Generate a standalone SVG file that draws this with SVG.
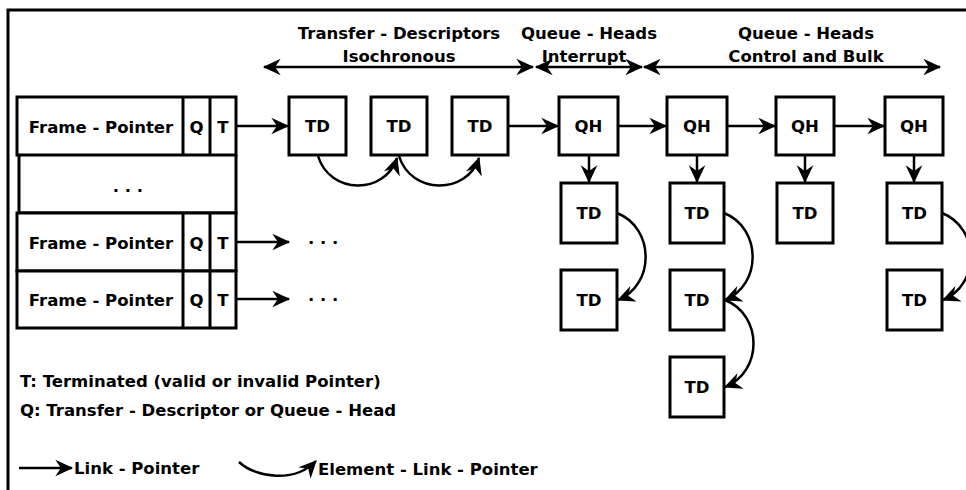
<svg xmlns="http://www.w3.org/2000/svg" width="966" height="490" viewBox="0 0 966 490">
  <style>
    .box { fill: #fff; stroke: #000; stroke-width: 3; }
    .ln { fill: none; stroke: #000; stroke-width: 3; }
    .cn { fill: none; stroke: #000; stroke-width: 2.5; }
    text { font-family: "DejaVu Sans", "Liberation Sans", sans-serif; font-weight: bold; font-size: 16.5px; fill: #000; }
    .c { text-anchor: middle; }
  </style>
  <defs>
    <marker id="ah" markerUnits="userSpaceOnUse" markerWidth="20" markerHeight="20" viewBox="-16 -8 18 16" refX="0" refY="0" orient="auto-start-reverse">
      <path d="M1,0 L-15,-7.5 L-10,0 L-15,7.5 Z" fill="#000"/>
    </marker>
  </defs>
  <rect width="966" height="490" fill="#fff"/>

  <!-- outer frame (top and left edges) -->
  <path class="ln" d="M8,490 V10 H966"/>

  <!-- range labels -->
  <g id="span-iso">
    <text class="c" x="399" y="39">Transfer - Descriptors</text>
    <text class="c" x="399" y="62">Isochronous</text>
  </g>
  <g id="span-int">
    <text class="c" x="589" y="39">Queue - Heads</text>
    <text class="c" x="584" y="62">Interrupt</text>
  </g>
  <g id="span-cb">
    <text class="c" x="806" y="39">Queue - Heads</text>
    <text class="c" x="806" y="62">Control and Bulk</text>
  </g>

  <!-- frame list -->
  <g id="frame-list">
    <rect class="box" x="17" y="97" width="219" height="58"/>
    <line class="ln" x1="183" y1="97" x2="183" y2="155"/>
    <line class="ln" x1="210" y1="97" x2="210" y2="155"/>
    <text class="c" x="101" y="133">Frame - Pointer</text>
    <text class="c" x="196.5" y="133">Q</text>
    <text class="c" x="223" y="133">T</text>

    <path class="ln" d="M19,155 V213 H236 V155"/>
    <text class="c" x="128" y="192">. . .</text>

    <rect class="box" x="17" y="213" width="219" height="58"/>
    <line class="ln" x1="183" y1="213" x2="183" y2="271"/>
    <line class="ln" x1="210" y1="213" x2="210" y2="271"/>
    <text class="c" x="101" y="249">Frame - Pointer</text>
    <text class="c" x="196.5" y="249">Q</text>
    <text class="c" x="223" y="249">T</text>

    <rect class="box" x="17" y="271" width="219" height="57"/>
    <line class="ln" x1="183" y1="271" x2="183" y2="328"/>
    <line class="ln" x1="210" y1="271" x2="210" y2="328"/>
    <text class="c" x="101" y="306">Frame - Pointer</text>
    <text class="c" x="196.5" y="306">Q</text>
    <text class="c" x="223" y="306">T</text>
  </g>

  <!-- isochronous transfer descriptors -->
  <g id="td1"><rect class="box" x="289" y="97" width="57" height="58"/><text class="c" x="317.5" y="132">TD</text></g>
  <g id="td2"><rect class="box" x="371" y="97" width="56" height="58"/><text class="c" x="399" y="132">TD</text></g>
  <g id="td3"><rect class="box" x="452" y="97" width="56" height="58"/><text class="c" x="480" y="132">TD</text></g>

  <!-- queue heads -->
  <g id="qh1"><rect class="box" x="559" y="97" width="59" height="58"/><text class="c" x="588.5" y="132">QH</text></g>
  <g id="qh2"><rect class="box" x="667" y="97" width="60" height="58"/><text class="c" x="697" y="132">QH</text></g>
  <g id="qh3"><rect class="box" x="776" y="97" width="58" height="58"/><text class="c" x="805" y="132">QH</text></g>
  <g id="qh4"><rect class="box" x="885" y="97" width="58" height="58"/><text class="c" x="914" y="132">QH</text></g>

  <!-- queued transfer descriptors -->
  <g id="qh1-td1"><rect class="box" x="561" y="183" width="56" height="60"/><text class="c" x="589" y="219">TD</text></g>
  <g id="qh1-td2"><rect class="box" x="561" y="270" width="56" height="60"/><text class="c" x="589" y="306">TD</text></g>
  <g id="qh2-td1"><rect class="box" x="670" y="183" width="54" height="60"/><text class="c" x="697" y="219">TD</text></g>
  <g id="qh2-td2"><rect class="box" x="670" y="270" width="54" height="60"/><text class="c" x="697" y="306">TD</text></g>
  <g id="qh2-td3"><rect class="box" x="670" y="357" width="54" height="60"/><text class="c" x="697" y="393">TD</text></g>
  <g id="qh3-td1"><rect class="box" x="777" y="183" width="56" height="60"/><text class="c" x="805" y="219">TD</text></g>
  <g id="qh4-td1"><rect class="box" x="887" y="183" width="55" height="60"/><text class="c" x="914.5" y="219">TD</text></g>
  <g id="qh4-td2"><rect class="box" x="887" y="270" width="55" height="60"/><text class="c" x="914.5" y="306">TD</text></g>

  <!-- connectors -->
  <g id="connectors">
    <!-- range spans -->
    <line class="cn" x1="264" y1="67" x2="533" y2="67" marker-start="url(#ah)" marker-end="url(#ah)"/>
    <line class="cn" x1="536" y1="67" x2="642" y2="67" marker-start="url(#ah)" marker-end="url(#ah)"/>
    <line class="cn" x1="644" y1="67" x2="940" y2="67" marker-start="url(#ah)" marker-end="url(#ah)"/>

    <!-- link pointers -->
    <line class="cn" x1="236" y1="126" x2="288" y2="126" marker-end="url(#ah)"/>
    <line class="cn" x1="508" y1="126" x2="558" y2="126" marker-end="url(#ah)"/>
    <line class="cn" x1="618" y1="126" x2="666" y2="126" marker-end="url(#ah)"/>
    <line class="cn" x1="727" y1="126" x2="775" y2="126" marker-end="url(#ah)"/>
    <line class="cn" x1="834" y1="126" x2="884" y2="126" marker-end="url(#ah)"/>
    <line class="cn" x1="236" y1="242" x2="289" y2="242" marker-end="url(#ah)"/>
    <line class="cn" x1="236" y1="299" x2="289" y2="299" marker-end="url(#ah)"/>

    <line class="cn" x1="589" y1="155" x2="589" y2="182" marker-end="url(#ah)"/>
    <line class="cn" x1="697" y1="155" x2="697" y2="182" marker-end="url(#ah)"/>
    <line class="cn" x1="805" y1="155" x2="805" y2="182" marker-end="url(#ah)"/>
    <line class="cn" x1="914" y1="155" x2="914" y2="182" marker-end="url(#ah)"/>

    <!-- element link pointers -->
    <path class="cn" d="M318,156 C330,195 385,195 397,158" marker-end="url(#ah)"/>
    <path class="cn" d="M399,156 C411,195 467,195 479,158" marker-end="url(#ah)"/>
    <path class="cn" d="M617,213 C655,228 655,285 618,300" marker-end="url(#ah)"/>
    <path class="cn" d="M724,213 C762,228 762,285 725,300" marker-end="url(#ah)"/>
    <path class="cn" d="M725,300 C763,315 763,372 725,387" marker-end="url(#ah)"/>
    <path class="cn" d="M942,213 C980,228 980,285 943,300" marker-end="url(#ah)"/>
  </g>

  <!-- trailing entries -->
  <text x="308" y="244">. . .</text>
  <text x="308" y="301">. . .</text>

  <!-- legend -->
  <g id="legend">
    <text x="20" y="387">T: Terminated (valid or invalid Pointer)</text>
    <text x="20" y="416">Q: Transfer - Descriptor or Queue - Head</text>
    <line class="cn" x1="19" y1="468" x2="72" y2="468" marker-end="url(#ah)"/>
    <text x="74" y="474">Link - Pointer</text>
    <path class="cn" d="M239,462 C256,478 295,483 316,461" marker-end="url(#ah)"/>
    <text x="318" y="475">Element - Link - Pointer</text>
  </g>
</svg>
